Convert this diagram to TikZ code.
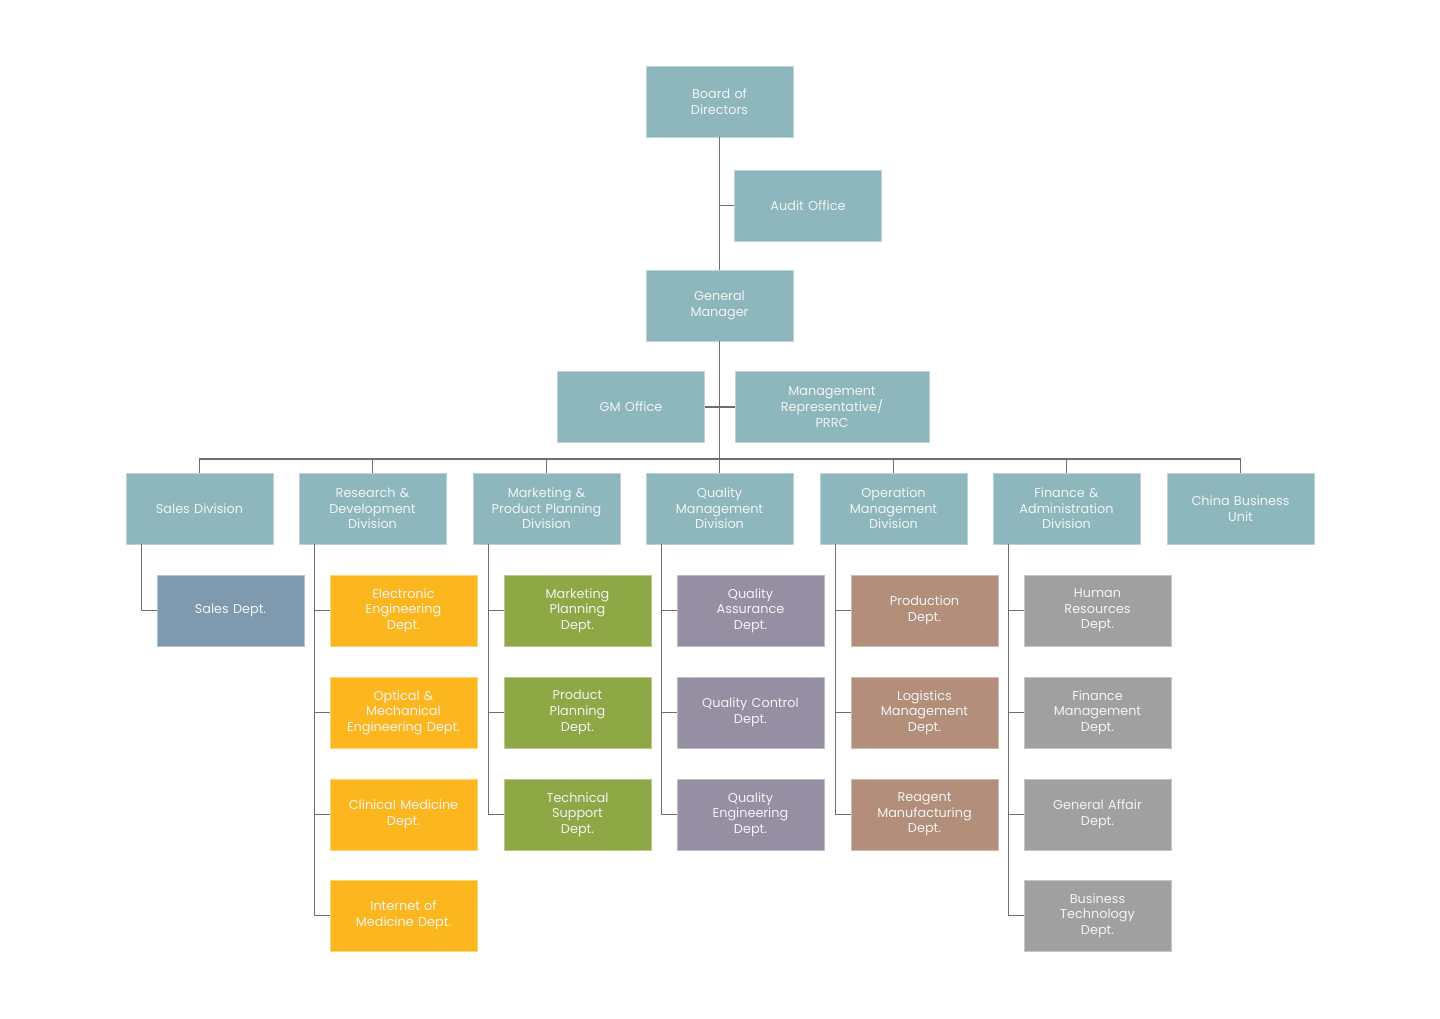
\documentclass[tikz,border=0pt]{standalone}
\usepackage{fontspec}
\setmainfont{Poppins}
\definecolor{teal}{HTML}{8DB7BD}
\definecolor{salesblue}{HTML}{7F99AF}
\definecolor{rdorange}{HTML}{FDB71E}
\definecolor{mkgreen}{HTML}{8DA845}
\definecolor{qmpurple}{HTML}{968EA3}
\definecolor{opbrown}{HTML}{B38E7A}
\definecolor{fagray}{HTML}{A0A0A0}
\definecolor{linegray}{HTML}{6E6E6E}
\definecolor{textwhite}{HTML}{F2F4F4}
\tikzset{
  unit/.style={rectangle, minimum width=2.94cm, minimum height=1.42cm,
    text width=2.7cm, align=center, text=textwhite, line width=0.5pt,
    font=\fontsize{7.3}{8.9}\selectfont, inner sep=0pt},
  mainbox/.style={unit, fill=teal, draw=teal!60!white},
  salesbox/.style={unit, fill=salesblue, draw=salesblue!60!white},
  rdbox/.style={unit, fill=rdorange, draw=rdorange!60!white},
  mkbox/.style={unit, fill=mkgreen, draw=mkgreen!60!white},
  qmbox/.style={unit, fill=qmpurple, draw=qmpurple!60!white},
  opbox/.style={unit, fill=opbrown, draw=opbrown!60!white},
  fabox/.style={unit, fill=fagray, draw=fagray!60!white},
  link/.style={draw=linegray, line width=0.8pt}
}
\begin{document}
\begin{tikzpicture}[x=0.02cm, y=-0.02cm]
  \useasboundingbox (0,0) rectangle (1440,1018);

  % Top of the chart
  \node [mainbox] (board) at (719.5,101.5) {Board of\\Directors};
  \node [mainbox] (audit) at (808,205.5) {Audit Office};
  \node [mainbox] (gm) at (719.5,305.5) {General\\Manager};
  \node [mainbox] (gmoffice) at (631,407) {GM Office};
  \node [mainbox, minimum width=3.88cm, text width=3.5cm] (mrep) at (832,407)
    {Management\\Representative/\\PRRC};

  % Divisions
  \node [mainbox] (sales) at (199.5,508.5) {Sales Division};
  \node [mainbox] (rd) at (372.5,508.5) {Research \&\\Development\\Division};
  \node [mainbox] (mk) at (546.5,508.5) {Marketing \&\\Product Planning\\Division};
  \node [mainbox] (qm) at (719.5,508.5) {Quality\\Management\\Division};
  \node [mainbox] (op) at (893.5,508.5) {Operation\\Management\\Division};
  \node [mainbox] (fa) at (1066.5,508.5) {Finance \&\\Administration\\Division};
  \node [mainbox] (china) at (1240.5,508.5) {China Business\\Unit};

  % Sales departments
  \node [salesbox] (salesdept) at (230.5,610.5) {Sales Dept.};

  % R&D departments
  \node [rdbox] (elec) at (403.5,610.5) {Electronic\\Engineering\\Dept.};
  \node [rdbox] (optic) at (403.5,712.5) {Optical \&\\Mechanical\\Engineering Dept.};
  \node [rdbox] (clinic) at (403.5,814.5) {Clinical Medicine\\Dept.};
  \node [rdbox] (iomed) at (403.5,915.5) {Internet of\\Medicine Dept.};

  % Marketing departments
  \node [mkbox] (mkplan) at (577.5,610.5) {Marketing\\Planning\\Dept.};
  \node [mkbox] (prodplan) at (577.5,712.5) {Product\\Planning\\Dept.};
  \node [mkbox] (techsup) at (577.5,814.5) {Technical\\Support\\Dept.};

  % Quality departments
  \node [qmbox] (qa) at (750.5,610.5) {Quality\\Assurance\\Dept.};
  \node [qmbox] (qc) at (750.5,712.5) {Quality Control\\Dept.};
  \node [qmbox] (qe) at (750.5,814.5) {Quality\\Engineering\\Dept.};

  % Operation departments
  \node [opbox] (prod) at (924.5,610.5) {Production\\Dept.};
  \node [opbox] (logis) at (924.5,712.5) {Logistics\\Management\\Dept.};
  \node [opbox] (reag) at (924.5,814.5) {Reagent\\Manufacturing\\Dept.};

  % Finance departments
  \node [fabox] (hr) at (1097.5,610.5) {Human\\Resources\\Dept.};
  \node [fabox] (finman) at (1097.5,712.5) {Finance\\Management\\Dept.};
  \node [fabox] (genaff) at (1097.5,814.5) {General Affair\\Dept.};
  \node [fabox] (bustech) at (1097.5,915.5) {Business\\Technology\\Dept.};

  % Drawing the trunk
  \draw [link] (board) -- (gm);
  \draw [link] (audit.west) -- (audit.west -| board.south);
  \coordinate (bus) at (719.5,459);
  \draw [link] (gm.south) -- (bus);
  \draw [link] (gmoffice.east) -- (mrep.west);

  % Drawing the bus to the divisions
  \draw [link] (sales.north) |- (bus) -| (china.north);
  \foreach \d in {rd, mk, qm, op, fa}
    \draw [link] (\d.north) -- (\d.north |- bus);

  % Drawing the links to the departments
  \draw [link] (sales.south west) ++(16,0) |- (salesdept.west);
  \foreach \s in {elec, optic, clinic, iomed}
    \draw [link] (rd.south west) ++(16,0) |- (\s.west);
  \foreach \s in {mkplan, prodplan, techsup}
    \draw [link] (mk.south west) ++(16,0) |- (\s.west);
  \foreach \s in {qa, qc, qe}
    \draw [link] (qm.south west) ++(16,0) |- (\s.west);
  \foreach \s in {prod, logis, reag}
    \draw [link] (op.south west) ++(16,0) |- (\s.west);
  \foreach \s in {hr, finman, genaff, bustech}
    \draw [link] (fa.south west) ++(16,0) |- (\s.west);
\end{tikzpicture}
\end{document}
